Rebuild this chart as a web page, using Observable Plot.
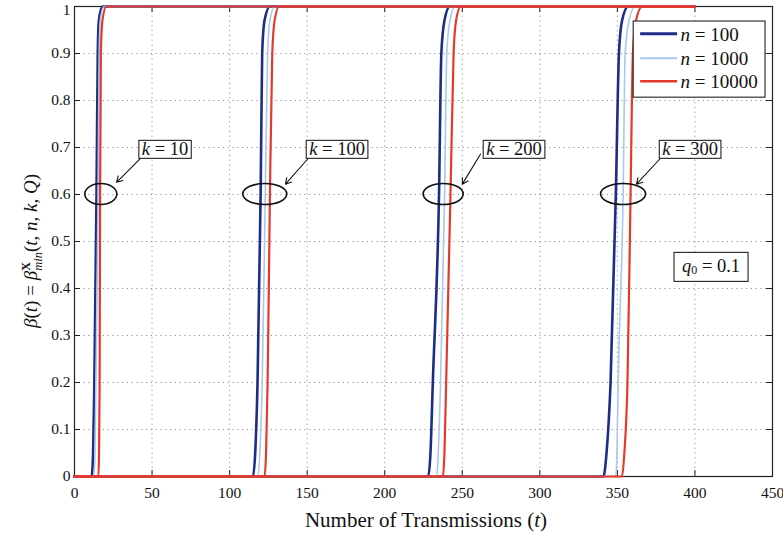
<!DOCTYPE html>
<html><head><meta charset="utf-8">
<script src="https://cdn.jsdelivr.net/npm/d3@7"></script>
<script src="https://cdn.jsdelivr.net/npm/@observablehq/plot@0.6"></script>
<style>body{margin:0;background:#fff}</style>
</head><body><div id="chart"></div>
<script>
// ---------- data ----------
const xTicks = [0, 50, 100, 150, 200, 250, 300, 350, 400, 450];
const yTicks = [0, 0.1, 0.2, 0.3, 0.4, 0.5, 0.6, 0.7, 0.8, 0.9, 1];
const levels = [0, 0.05, 0.2, 0.6, 0.9, 0.97, 1];   // beta levels
const kValues = [10, 100, 200, 300];
const nValues = [100, 1000, 10000];
const nLabels = ["100", "1000", "10000"];
const tFirst = 0, tLast = 400;
// t at each beta level, one row per k
const tN100 = [
  [11, 12, 12.8, 14.2, 15, 15.7, 18],
  [115, 116.5, 118, 120, 121, 122.5, 126],
  [228, 229.5, 231, 235, 236.5, 238.5, 242],
  [341, 343, 345.6, 349, 351, 353, 357]];
const tN1000 = [
  [12.5, 13.2, 13.8, 15.2, 15.9, 16.6, 19],
  [118, 119.5, 121, 123, 124.5, 126, 129],
  [233.5, 234.5, 236, 238.6, 240, 242, 245.5],
  [349, 349.7, 350.5, 353.7, 355, 357.5, 361.5]];
const tN10000 = [
  [15.5, 15.8, 16.2, 16.5, 17, 18, 20.5],
  [122.5, 123.5, 124.5, 126, 127.5, 129, 132],
  [237.5, 238.5, 239.6, 242.4, 244.4, 246, 249],
  [353, 354.5, 356.5, 358.5, 360, 362, 366]];
// annotations
const kLabels = ["10", "100", "200", "300"];
const ellipseT = [17.3, 123, 238, 354];
const ellipseB = 0.6;
const labelT = [58.7, 169.6, 283.7, 397.2];
const labelB = 0.695;
const arrowT1 = [43.2, 150.2, 261.8, 377.2];
const arrowB1 = [0.679, 0.675, 0.686, 0.675];
const arrowT2 = [27.1, 136, 250, 362.3];
const arrowB2 = [0.626, 0.622, 0.622, 0.622];
const q0Label = "0.1";
const q0T = 410.7, q0B = 0.446;
const legendT = [360.5, 445.5], legendB = [0.968, 0.806];
const legendRowB = [0.941, 0.889, 0.840];
const legendLineT = [365, 388.8], legendTextT = 391;

// ---------- styles ----------
const nColors = ["#1c2c88", "#a9c7f0", "#e5392d"];
const nWidths = [2.6, 1.6, 2.2];
const FONT = "Liberation Serif";

function curvePoints(rows, n) {
  const pts = [];
  rows.forEach((ts, i) => {
    const k = kValues[i];
    pts.push({t: tFirst, b: 0, k, n});
    ts.forEach((t, j) => pts.push({t, b: levels[j], k, n}));
    pts.push({t: tLast, b: 1, k, n});
  });
  return pts;
}
const series = [tN100, tN1000, tN10000].map((rows, i) => curvePoints(rows, nValues[i]));

const W = 783, H = 539, ML = 74, MR = 11, MT = 6, MB = 63;
const innerW = W - ML - MR, innerH = H - MT - MB;
const arrows = kValues.map((k, i) => ({x1: arrowT1[i], y1: arrowB1[i], x2: arrowT2[i], y2: arrowB2[i]}));

const plot = Plot.plot({
  width: W, height: H,
  marginLeft: ML, marginRight: MR, marginTop: MT, marginBottom: MB,
  style: {fontFamily: FONT, fontSize: "15.5px", background: "white", color: "black"},
  x: {domain: [0, 450]},
  y: {domain: [0, 1]},
  marks: [
    Plot.gridX(xTicks, {stroke: "#888", strokeOpacity: 0.9, strokeDasharray: "1.2,3.6"}),
    Plot.gridY(yTicks, {stroke: "#888", strokeOpacity: 0.9, strokeDasharray: "1.2,3.6"}),
    Plot.axisX(xTicks, {tickSize: 0, tickPadding: 10, label: null, tickFormat: d => String(d), fill: "#111"}),
    Plot.axisY(yTicks.slice(0, -1), {tickSize: 0, tickPadding: 4, label: null, tickFormat: d => String(d), fill: "#111"}),
    Plot.axisY(yTicks.slice(-1), {tickSize: 0, tickPadding: 4, label: null, tickFormat: d => String(d), fill: "#111", dy: 4}),
    Plot.ruleX(xTicks, {insetTop: innerH - 6, stroke: "#222"}),
    Plot.ruleX(xTicks, {insetBottom: innerH - 6, stroke: "#222"}),
    Plot.ruleY(yTicks, {insetRight: innerW - 6, stroke: "#222"}),
    Plot.ruleY(yTicks, {insetLeft: innerW - 6, stroke: "#222"}),
    Plot.frame({stroke: "#222", strokeWidth: 1.2}),
    ...series.map((pts, i) => Plot.line(pts, {x: "t", y: "b", z: "k", stroke: nColors[i], strokeWidth: nWidths[i], curve: "monotone-x"})),
    Plot.arrow(arrows, {x1: "x1", y1: "y1", x2: "x2", y2: "y2", stroke: "#111", strokeWidth: 1.1, headLength: 9, bend: 0})
  ]
});
document.getElementById("chart").append(plot);

const sx = plot.scale("x"), sy = plot.scale("y");
const X = v => sx.apply(v), Y = v => sy.apply(v);
const svg = d3.select(plot);
const ann = svg.append("g").attr("font-family", FONT).attr("text-anchor", "start");

// ellipses
const ellRx = [16, 22, 20, 22.5], ellRy = 10.5;
ellipseT.forEach((t, i) => {
  ann.append("ellipse").attr("cx", X(t)).attr("cy", Y(ellipseB))
    .attr("rx", ellRx[i]).attr("ry", ellRy)
    .attr("fill", "none").attr("stroke", "#111").attr("stroke-width", 1.6);
});

function boxedText(cx, cy, build, fs, padX, padY) {
  const g = ann.append("g");
  const rect = g.append("rect");
  const txt = g.append("text").attr("x", cx).attr("y", cy)
    .attr("text-anchor", "middle").attr("dominant-baseline", "central")
    .attr("font-size", fs).attr("fill", "#111");
  build(txt);
  const bb = txt.node().getBBox();
  rect.attr("x", bb.x - padX).attr("y", bb.y - padY + 1)
    .attr("width", bb.width + 2 * padX).attr("height", bb.height + 2 * padY - 2)
    .attr("fill", "white").attr("stroke", "#222").attr("stroke-width", 1.1);
}

kLabels.forEach((lab, i) => {
  boxedText(X(labelT[i]), Y(labelB), txt => {
    txt.append("tspan").attr("font-style", "italic").text("k");
    txt.append("tspan").text(" = " + lab);
  }, 18.5, 3, 0);
});

boxedText(X(q0T), Y(q0B), txt => {
  txt.append("tspan").attr("font-style", "italic").text("q");
  txt.append("tspan").attr("font-size", 12).attr("dy", 4).text("0");
  txt.append("tspan").attr("dy", -4).text(" = " + q0Label);
}, 18.5, 8, 5);

// legend
ann.append("rect").attr("x", X(legendT[0])).attr("y", Y(legendB[0]))
  .attr("width", X(legendT[1]) - X(legendT[0])).attr("height", Y(legendB[1]) - Y(legendB[0]))
  .attr("fill", "white").attr("stroke", "#222").attr("stroke-width", 1.1);
nLabels.forEach((lab, i) => {
  ann.append("line").attr("x1", X(legendLineT[0])).attr("x2", X(legendLineT[1]))
    .attr("y1", Y(legendRowB[i])).attr("y2", Y(legendRowB[i]))
    .attr("stroke", nColors[i]).attr("stroke-width", nWidths[i] + 0.4);
  const t = ann.append("text").attr("x", X(legendTextT)).attr("y", Y(legendRowB[i]))
    .attr("text-anchor", "start")
    .attr("dominant-baseline", "central").attr("font-size", 19).attr("fill", "#111");
  t.append("tspan").attr("font-style", "italic").text("n");
  t.append("tspan").text(" = " + lab);
});

// axis titles
const xt = ann.append("text").attr("x", X(225) + 3).attr("y", H - 12)
  .attr("text-anchor", "middle").attr("font-size", 21).attr("fill", "#111");
xt.append("tspan").text("Number of Transmissions (");
xt.append("tspan").attr("font-style", "italic").text("t");
xt.append("tspan").text(")");

const yt = ann.append("text").attr("transform", `translate(37,${Y(0.5) + 10}) rotate(-90)`)
  .attr("text-anchor", "middle").attr("font-size", 19).attr("fill", "#111");
yt.append("tspan").attr("font-style", "italic").text("β");
yt.append("tspan").text("(");
yt.append("tspan").attr("font-style", "italic").text("t");
yt.append("tspan").text(") = ");
yt.append("tspan").attr("font-style", "italic").text("β");
yt.append("tspan").attr("font-weight", "bold").attr("font-size", 12.5).attr("dy", -7).text("X");
yt.append("tspan").attr("font-style", "italic").attr("font-size", 12.5).attr("dx", -9).attr("dy", 12).text("min");
yt.append("tspan").attr("dy", -5).text("(");
yt.append("tspan").attr("font-style", "italic").text("t");
yt.append("tspan").text(", ");
yt.append("tspan").attr("font-style", "italic").text("n");
yt.append("tspan").text(", ");
yt.append("tspan").attr("font-style", "italic").text("k");
yt.append("tspan").text(", ");
yt.append("tspan").attr("font-style", "italic").text("Q");
yt.append("tspan").text(")");
</script>
</body></html>
